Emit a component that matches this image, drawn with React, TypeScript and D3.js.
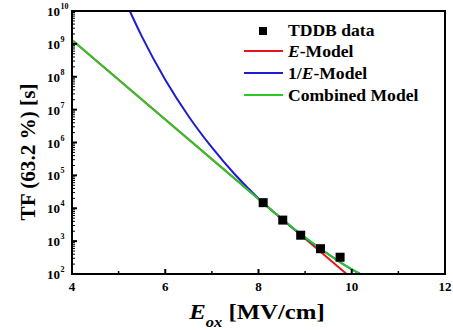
import React from "react";
import * as d3 from "d3";

const dataE = [8.1, 8.52, 8.905, 9.33, 9.75];
const dataLogTF = [4.17, 3.64, 3.18, 2.77, 2.51];

const redE = [4, 9.89];
const redLog = [9.12, 2.0];

const blueE = [5.24, 5.5, 6, 6.5, 7, 7.5, 8, 8.5, 9, 9.5, 10, 10.18];
const blueLog = [10.0, 9.22, 7.91, 6.8, 5.85, 5.02, 4.3, 3.67, 3.1, 2.6, 2.14, 2.0];

const greenE = [4, 6, 8, 8.5, 8.9, 9.3, 9.7, 10.18];
const greenLog = [9.12, 6.7, 4.28, 3.68, 3.22, 2.8, 2.4, 2.0];

const xTicks = [4, 6, 8, 10, 12];
const xMinor = [5, 7, 9, 11];
const yExps = [2, 3, 4, 5, 6, 7, 8, 9, 10];

const legendLabels = ["TDDB data", "E-Model", "1/E-Model", "Combined Model"];

const W = 453, H = 330;
const L = 72, R = 445, T = 11, B = 274;
const FONT = "'Liberation Serif', 'Times New Roman', serif";

export default function App() {
  const x = d3.scaleLinear().domain([4, 12]).range([L, R]);
  const y = d3.scaleLog().domain([1e2, 1e10]).range([B, T]);
  const line = d3
    .line<[number, number]>()
    .x((d) => x(d[0]))
    .y((d) => y(Math.pow(10, d[1])))
    .curve(d3.curveMonotoneX);
  const pts = (es: number[], ls: number[]) => es.map((e, i) => [e, ls[i]] as [number, number]);

  const minorY: number[] = [];
  for (let e = 2; e < 10; e++) for (let m = 2; m <= 9; m++) minorY.push(m * Math.pow(10, e));

  const red = "#e8141c", blue = "#1c1cd0", green = "#28c828";
  const legText = (yy: number, content: React.ReactNode) => (
    <text transform={`translate(288,${yy}) scale(1.1,1)`} fontFamily={FONT} fontWeight="bold" fontSize={16}>
      {content}
    </text>
  );

  return (
    <svg width={W} height={H} style={{ position: "absolute", left: 0, top: 0, background: "#fff" }}>
      <defs>
        <clipPath id="plot">
          <rect x={L} y={T} width={R - L} height={B - T} />
        </clipPath>
      </defs>
      <g clipPath="url(#plot)" fill="none" strokeWidth={2}>
        <path d={line(pts(redE, redLog)) || ""} stroke={red} />
        <path d={line(pts(blueE, blueLog)) || ""} stroke={blue} />
        <path d={line(pts(greenE, greenLog)) || ""} stroke={green} />
      </g>
      {dataE.map((e, i) => (
        <rect key={i} x={x(e) - 4.5} y={y(Math.pow(10, dataLogTF[i])) - 4.5} width={9} height={9} fill="#000" />
      ))}
      <rect x={L} y={T} width={R - L} height={B - T} fill="none" stroke="#000" strokeWidth={2} />
      {/* x ticks */}
      {xTicks.map((t) => (
        <g key={t}>
          <line x1={x(t)} x2={x(t)} y1={B} y2={B - 5} stroke="#000" strokeWidth={2} />
          <text x={x(t)} y={291} textAnchor="middle" fontFamily={FONT} fontWeight="bold" fontSize={13}>
            {t}
          </text>
        </g>
      ))}
      {xMinor.map((t) => (
        <line key={t} x1={x(t)} x2={x(t)} y1={B} y2={B - 3} stroke="#000" strokeWidth={1.5} />
      ))}
      {/* y ticks */}
      {yExps.map((e) => (
        <g key={e}>
          <line x1={L} x2={L + 5} y1={y(Math.pow(10, e))} y2={y(Math.pow(10, e))} stroke="#000" strokeWidth={2} />
          <text x={60} y={y(Math.pow(10, e)) + 5} textAnchor="end" fontFamily={FONT} fontWeight="bold" fontSize={13}>
            10
          </text>
          <text x={60.5} y={y(Math.pow(10, e)) - 2} textAnchor="start" fontFamily={FONT} fontWeight="bold" fontSize={8}>
            {e}
          </text>
        </g>
      ))}
      {minorY.map((v, i) => (
        <line key={i} x1={L} x2={L + 3} y1={y(v)} y2={y(v)} stroke="#000" strokeWidth={1} />
      ))}
      {/* axis titles */}
      <text
        transform="translate(257,319) scale(1.18,1)"
        textAnchor="middle"
        fontFamily={FONT}
        fontWeight="bold"
        fontSize={21}
      >
        <tspan fontStyle="italic">E</tspan>
        <tspan fontStyle="italic" fontSize={14} dy={8}>ox</tspan>
        <tspan dy={-8}> [MV/cm]</tspan>
      </text>
      <text
        transform={`translate(35,152) rotate(-90) scale(1.06,1)`}
        textAnchor="middle"
        fontFamily={FONT}
        fontWeight="bold"
        fontSize={20}
      >
        TF (63.2 %) [s]
      </text>
      {/* legend */}
      <rect x={259} y={27} width={8} height={8} fill="#000" />
      {legText(36, legendLabels[0])}
      <line x1={244} x2={283} y1={51} y2={51} stroke={red} strokeWidth={2} />
      {legText(57, <><tspan fontStyle="italic">E</tspan>-Model</>)}
      <line x1={244} x2={283} y1={73} y2={73} stroke={blue} strokeWidth={2} />
      {legText(79, <>1/<tspan fontStyle="italic">E</tspan>-Model</>)}
      <line x1={244} x2={283} y1={95} y2={95} stroke={green} strokeWidth={2} />
      {legText(101, legendLabels[3])}
    </svg>
  );
}
